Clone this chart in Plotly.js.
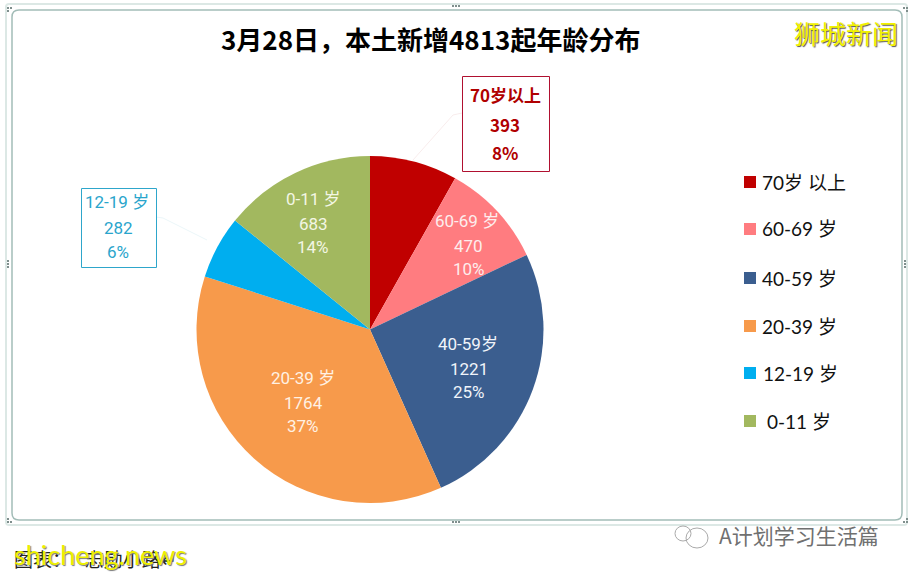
<!DOCTYPE html>
<html><head><meta charset="utf-8">
<script src="https://cdn.plot.ly/plotly-3.0.1.min.js"></script>
<style>html,body{margin:0;padding:0;background:#fff;overflow:hidden}</style>
</head><body><div id="c" style="width:912px;height:574px"></div>
<script>
const categories = ['70岁以上','60-69 岁','40-59岁','20-39 岁','12-19 岁','0-11 岁'];
const legendLabels = ['70岁 以上','60-69 岁','40-59 岁','20-39 岁','12-19 岁','0-11 岁'];
const values = [393,470,1221,1764,282,683];
const percents = ['8%','10%','25%','37%','6%','14%'];
const colors = ['#C00000','#FF7C80','#3B5E8F','#F79A4B','#00AEEF','#A2B85F'];
const titleText = '3月28日，本土新增4813起年龄分布';
const W=912,H=574;
const px=x=>x/W, py=y=>1-y/H;
const LEG='Lato, "Noto Sans CJK SC", sans-serif';
const CJKB='"Noto Sans CJK SC", sans-serif';
const DIN='Roboto, "Noto Sans CJK SC", sans-serif';
const ann=[], shp=[];
function T(x,y,text,font,anchor){ann.push({xref:'paper',yref:'paper',x:px(x),y:py(y),text:text,showarrow:false,xanchor:anchor||'center',yanchor:'middle',font:font});}
function lab(i,cx,ys,font){[categories[i],String(values[i]),percents[i]].forEach((t,k)=>T(cx[k],ys[k],t,font));}
function R(x0,y0,x1,y1,line,fill){shp.push({type:'rect',xref:'paper',yref:'paper',x0:px(x0),x1:px(x1),y0:py(y0),y1:py(y1),line:line,fillcolor:fill||'rgba(0,0,0,0)',layer:'below'});}
function P(path,color,w){shp.push({type:'path',xref:'paper',yref:'paper',path:path,line:{color:color,width:w},layer:'below'});}
function rr(x0,y0,x1,y1,r){const X=px,Y=py;return `M${X(x0+r)},${Y(y0)} L${X(x1-r)},${Y(y0)} Q${X(x1)},${Y(y0)} ${X(x1)},${Y(y0+r)} L${X(x1)},${Y(y1-r)} Q${X(x1)},${Y(y1)} ${X(x1-r)},${Y(y1)} L${X(x0+r)},${Y(y1)} Q${X(x0)},${Y(y1)} ${X(x0)},${Y(y1-r)} L${X(x0)},${Y(y0+r)} Q${X(x0)},${Y(y0)} ${X(x0+r)},${Y(y0)} Z`;}
// frame
P(rr(6,4,907,525,3),'#DCE8E5',2);
P(rr(12,10,902,520,7),'#A3BDB8',1.5);
// handles: three small dots on each side, two on the corners
[[453,6],[456,6],[459,6],[453,522],[456,522],[459,522],[8,261],[8,264],[8,267],[905,261],[905,264],[905,267],
 [8,8],[11,8],[8,11],[904,8],[907,8],[907,11],[8,522],[11,522],[8,519],[904,522],[907,522],[907,519]].forEach(h=>R(h[0]-1,h[1]-1,h[0]+1,h[1]+1,{width:0},'#7f8f8d'));
// leader lines
P(`M${px(462)},${py(113)} L${px(453)},${py(115)} L${px(413)},${py(160)}`,'#F6E6E6',0.75);
P(`M${px(156)},${py(217)} L${px(163)},${py(218)} L${px(207)},${py(240)}`,'#E4F2F6',0.75);
// callout boxes
R(462.5,76.5,549.5,171.5,{color:'#B01030',width:1},'#fff');
R(81.5,188.5,156.5,267.5,{color:'#2EA6CB',width:1},'#fff');
// title
T(430,38,titleText,{family:CJKB,size:26,color:'#000',weight:700});
// in-slice labels
const nar=c=>({family:DIN,size:17,color:c});
lab(1,[467,469,469],[221,246,269],nar('#FDEDED'));
lab(2,[468,469,469],[344,369,392],nar('#F0F4FA'));
lab(3,[303,303,303],[378,403,426],nar('#FFF1E3'));
lab(5,[313,313,313],[199,224,247],nar('#F3F6E4'));
lab(4,[117,118,118],[202,228,252],nar('#2AA5CC'));
lab(0,[505,505,505],[95,125,153],{family:CJKB,size:17,color:'#B00000',weight:700});
// legend
const legY=[182,229,278,326,373,421], legX=[760,760,760,760,761,765];
legendLabels.forEach((c,i)=>{
 R(744,legY[i]-6,756,legY[i]+6,{width:0},colors[i]);
 T(legX[i],legY[i],c,{family:LEG,size:19,color:'#111'},'left');
});
// watermarks and source
T(846,33,'狮城新闻',{family:CJKB,size:26,color:'#F2F200',shadow:'1px 1px 1px #555'});
T(12,558,'图表：　 志勋小路↵',{family:CJKB,size:19,color:'#222'},'left');
T(12,554,'shicheng.news',{family:LEG,size:27,color:'#EEF000',shadow:'1px 1px 1px #777'},'left');
T(799,535,'A计划学习生活篇',{family:CJKB,size:21,color:'#707070'});
// wechat-style icon
shp.push({type:'circle',xref:'paper',yref:'paper',x0:px(675),x1:px(691),y0:py(541),y1:py(526),line:{color:'#aaa',width:1},layer:'below'});
shp.push({type:'circle',xref:'paper',yref:'paper',x0:px(686),x1:px(708),y0:py(548),y1:py(528),line:{color:'#aaa',width:1},layer:'below'});
const data=[{type:'pie',values:values,labels:categories,sort:false,direction:'clockwise',rotation:0,
 marker:{colors:colors,line:{width:0}},textinfo:'none',showlegend:false,hoverinfo:'label+value+percent',
 domain:{x:[196/W,544/W],y:[1-503/H,1-156/H]}}];
Plotly.newPlot('c',data,{width:W,height:H,margin:{l:0,r:0,t:0,b:0},paper_bgcolor:'#fff',showlegend:false,annotations:ann,shapes:shp},{displayModeBar:false,staticPlot:true});
</script></body></html>
